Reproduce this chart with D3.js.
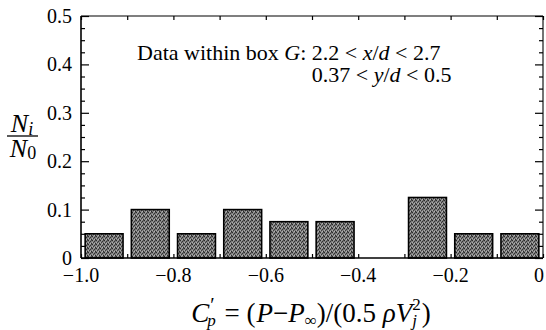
<!DOCTYPE html>
<html><head><meta charset="utf-8">
<script src="https://cdn.jsdelivr.net/npm/d3@7"></script>
<style>
html,body{margin:0;padding:0;background:#fff;}
svg{display:block;}
svg text{white-space:pre;}
</style></head>
<body>
<svg id="chart" width="546" height="330" font-family="Liberation Serif"></svg>
<script>
// ---- data ----
const binCenters = [-0.95, -0.85, -0.75, -0.65, -0.55, -0.45, -0.35, -0.25, -0.15, -0.05];
const fractions  = [0.05, 0.10, 0.05, 0.10, 0.075, 0.075, 0, 0.125, 0.05, 0.05];
const xTickValues = [-1.0, -0.8, -0.6, -0.4, -0.2, 0];
const xTickLabels = ["\u22121.0", "\u22120.8", "\u22120.6", "\u22120.4", "\u22120.2", "0"];
const yTickValues = [0, 0.1, 0.2, 0.3, 0.4, 0.5];
const yTickLabels = ["0", "0.1", "0.2", "0.3", "0.4", "0.5"];
const annotationLine1 = ["Data within box ", "G", ": 2.2 < ", "x", "/", "d", " < 2.7"];
const annotationLine2 = ["0.37 < ", "y", "/", "d", " < 0.5"];

// ---- layout ----
const FONT = "Liberation Serif";
const svg = d3.select("#chart");
const L = 81, R = 543, T = 16, B = 258;
const x = d3.scaleLinear().domain([-1, 0]).range([L, R]);
const y = d3.scaleLinear().domain([0, 0.5]).range([B, T]);
const binWidth = 0.1, barInset = 0.009;

// halftone-like pattern
const defs = svg.append("defs");
const pat = defs.append("pattern").attr("id","dots").attr("patternUnits","userSpaceOnUse")
  .attr("width",4).attr("height",4);
pat.append("rect").attr("width",4).attr("height",4).attr("fill","#7c7c7c");
[[0,0,"#2a2a2a"],[2,1,"#333"],[1,2,"#3c3c3c"],[3,3,"#2a2a2a"],[2,3,"#b4b4b4"],[0,2,"#acacac"],[3,0,"#4a4a4a"],[1,0,"#a0a0a0"]]
  .forEach(([px,py,c])=>pat.append("rect").attr("x",px).attr("y",py).attr("width",1).attr("height",1).attr("fill",c));

// bars
svg.append("g").selectAll("rect").data(binCenters.map((c,i)=>({c, v:fractions[i]})).filter(d=>d.v>0))
  .join("rect")
  .attr("x", d => x(d.c - binWidth/2 + barInset))
  .attr("width", d => x(d.c + binWidth/2 - barInset) - x(d.c - binWidth/2 + barInset))
  .attr("y", d => y(d.v))
  .attr("height", d => y(0) - y(d.v))
  .attr("fill", "url(#dots)")
  .attr("stroke", "#000")
  .attr("stroke-width", 1.6);

// frame
const frame = svg.append("g").attr("stroke","#000").attr("fill","none");
frame.append("line").attr("x1",L).attr("x2",L).attr("y1",T).attr("y2",B).attr("stroke-width",1.6);
frame.append("line").attr("x1",L).attr("x2",R).attr("y1",B).attr("y2",B).attr("stroke-width",1.6);
frame.append("line").attr("x1",L).attr("x2",R).attr("y1",T).attr("y2",T).attr("stroke-width",1.1);
frame.append("line").attr("x1",R).attr("x2",R).attr("y1",T).attr("y2",B).attr("stroke-width",1.1);

// ticks via axis generators
const yMinor = d3.range(0, 0.5001, 0.025).filter(v => Math.abs(v*10 - Math.round(v*10)) > 1e-6);
function styleAxis(g){ g.select(".domain").remove(); g.selectAll("line").attr("stroke","#000").attr("stroke-width",1.2); g.selectAll("text").remove(); }
svg.append("g").attr("transform",`translate(${L},0)`).call(d3.axisRight(y).tickValues(yTickValues).tickSize(8)).call(styleAxis);
svg.append("g").attr("transform",`translate(${L},0)`).call(d3.axisRight(y).tickValues(yMinor).tickSize(4)).call(styleAxis);
svg.append("g").attr("transform",`translate(${R},0)`).call(d3.axisLeft(y).tickValues(yTickValues).tickSize(8)).call(styleAxis);
svg.append("g").attr("transform",`translate(${R},0)`).call(d3.axisLeft(y).tickValues(yMinor).tickSize(4)).call(styleAxis);
const xTen = d3.range(-1, 0.0001, 0.1);
svg.append("g").attr("transform",`translate(0,${B})`).call(d3.axisTop(x).tickValues(xTen).tickSize(4)).call(styleAxis);
svg.append("g").attr("transform",`translate(0,${T})`).call(d3.axisBottom(x).tickValues(xTen).tickSize(4)).call(styleAxis);

// tick labels
svg.append("g").selectAll("text").data(xTickValues).join("text")
  .attr("font-family", FONT)
  .attr("x", d => Math.min(x(d), 539)).attr("y", B + 24).attr("text-anchor","middle")
  .attr("font-size", 20).text((d,i) => xTickLabels[i]);
svg.append("g").selectAll("text").data(yTickValues).join("text")
  .attr("font-family", FONT)
  .attr("x", L - 9).attr("y", d => y(d)).attr("dy","0.35em").attr("text-anchor","end")
  .attr("font-size", 20).text((d,i) => yTickLabels[i]);

// rich text helper: runs laid out sequentially
function rich(parent, x0, y0, runs, anchor){
  const g = parent.append("g");
  let cx = 0, lastW = 0;
  runs.forEach(r => {
    const t = g.append("text").attr("font-family", FONT).attr("xml:space","preserve")
      .attr("font-size", r.size).attr("y", y0 + (r.dy||0)).text(r.t);
    if (r.it) t.attr("font-style","italic");
    if (r.back) cx -= lastW;
    t.attr("x", cx + (r.dx||0));
    const w = t.node().getComputedTextLength() + (r.dx||0) + (r.pad||0);
    if (r.back) { cx += Math.max(w, lastW); } else { cx += w; }
    lastW = w;
  });
  const shift = anchor === "middle" ? x0 - cx/2 : x0;
  g.attr("transform", `translate(${shift},0)`);
  return g;
}

// x-axis title
const S = 27, s = 17;
rich(svg, 311, 322, [
  {t:"C", it:true, size:S},
  {t:"\u2032", size:s+3, dy:-10, dx:1},
  {t:"p", it:true, size:s, dy:4, back:true, dx:-2, pad:2},
  {t:" = (", size:S, pad:1},
  {t:"P", it:true, size:S},
  {t:"\u2212", size:S},
  {t:"P", it:true, size:S},
  {t:"\u221E", size:s, dy:4},
  {t:")/(0.5 ", size:S},
  {t:"\u03C1V", it:true, size:S},
  {t:"2", size:s, dy:-12},
  {t:"j", it:true, size:s, dy:4, back:true},
  {t:")", size:S, dx:1}
], "middle");

// y-axis title (fraction)
const yl = svg.append("g");
rich(yl, 22, 132, [{t:"N", it:true, size:26},{t:"i", it:true, size:18, dy:3}], "middle");
yl.append("line").attr("x1",7).attr("x2",38).attr("y1",136).attr("y2",136).attr("stroke","#000").attr("stroke-width",1.3);
rich(yl, 23, 157, [{t:"N", it:true, size:26},{t:"0", size:18, dy:2}], "middle");

// annotation
const ital1 = new Set([1,3,5]);
rich(svg, 137, 60, annotationLine1.map((t,i)=>({t, it:ital1.has(i), size:22})));
// second line aligned under "2.2"
function measure(t, it){ const e = svg.append("text").attr("font-family",FONT).attr("xml:space","preserve").attr("font-size",22).text(t); if(it) e.attr("font-style","italic"); const w = e.node().getComputedTextLength(); e.remove(); return w; }
const off = measure(annotationLine1[0]) + measure(annotationLine1[1], true) + measure(": ");
const ital2 = new Set([1,3]);
rich(svg, 137 + off, 82, annotationLine2.map((t,i)=>({t, it:ital2.has(i), size:22})));
</script>
</body></html>
